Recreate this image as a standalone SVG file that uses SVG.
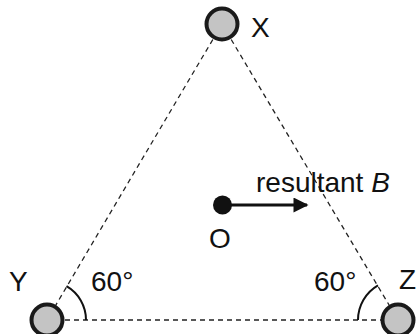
<svg xmlns="http://www.w3.org/2000/svg" width="416" height="334" viewBox="0 0 416 334">
<defs>
<style>
.edge{stroke:#222;stroke-width:1.3;stroke-dasharray:5 4;fill:none}
.node{fill:#c4c4c4;stroke:#1a1a1a;stroke-width:4}
.lbl{font-family:"Liberation Sans",Arial,sans-serif;font-size:28px;fill:#111}
.arc{stroke:#111;stroke-width:2;fill:none}
</style>
<marker id="ah" viewBox="0 0 10 10" refX="9" refY="5" markerWidth="17" markerHeight="15" markerUnits="userSpaceOnUse" orient="auto"><path d="M0,0 L10,5 L0,10 z" fill="#111"/></marker>
</defs>
<rect width="416" height="334" fill="#fff"/>
<g id="connectors">
<line class="edge" x1="222" y1="24" x2="47" y2="320"/>
<line class="edge" x1="222" y1="24" x2="398" y2="320"/>
<line class="edge" x1="47" y1="320" x2="398" y2="320"/>
<path class="arc" d="M86,320 A39,39 0 0 0 66.5,286.2"/>
<path class="arc" d="M358,320 A40,40 0 0 1 378,285.4"/>
<line x1="222" y1="205" x2="307" y2="205" stroke="#111" stroke-width="2.8" marker-end="url(#ah)"/>
</g>
<g id="X"><circle class="node" cx="222" cy="24" r="15.5"/><text class="lbl" x="251" y="37">X</text></g>
<g id="Y"><circle class="node" cx="47" cy="320" r="15.5"/><text class="lbl" x="9" y="291">Y</text></g>
<g id="Z"><circle class="node" cx="398" cy="320" r="15.5"/><text class="lbl" x="399" y="289">Z</text></g>
<g id="O"><circle cx="222.5" cy="205" r="9.5" fill="#111"/><text class="lbl" x="209" y="248">O</text></g>
<text class="lbl" x="256" y="192">resultant <tspan font-style="italic">B</tspan></text>
<text class="lbl" x="91" y="291">60°</text>
<text class="lbl" x="314" y="291">60°</text>
</svg>
